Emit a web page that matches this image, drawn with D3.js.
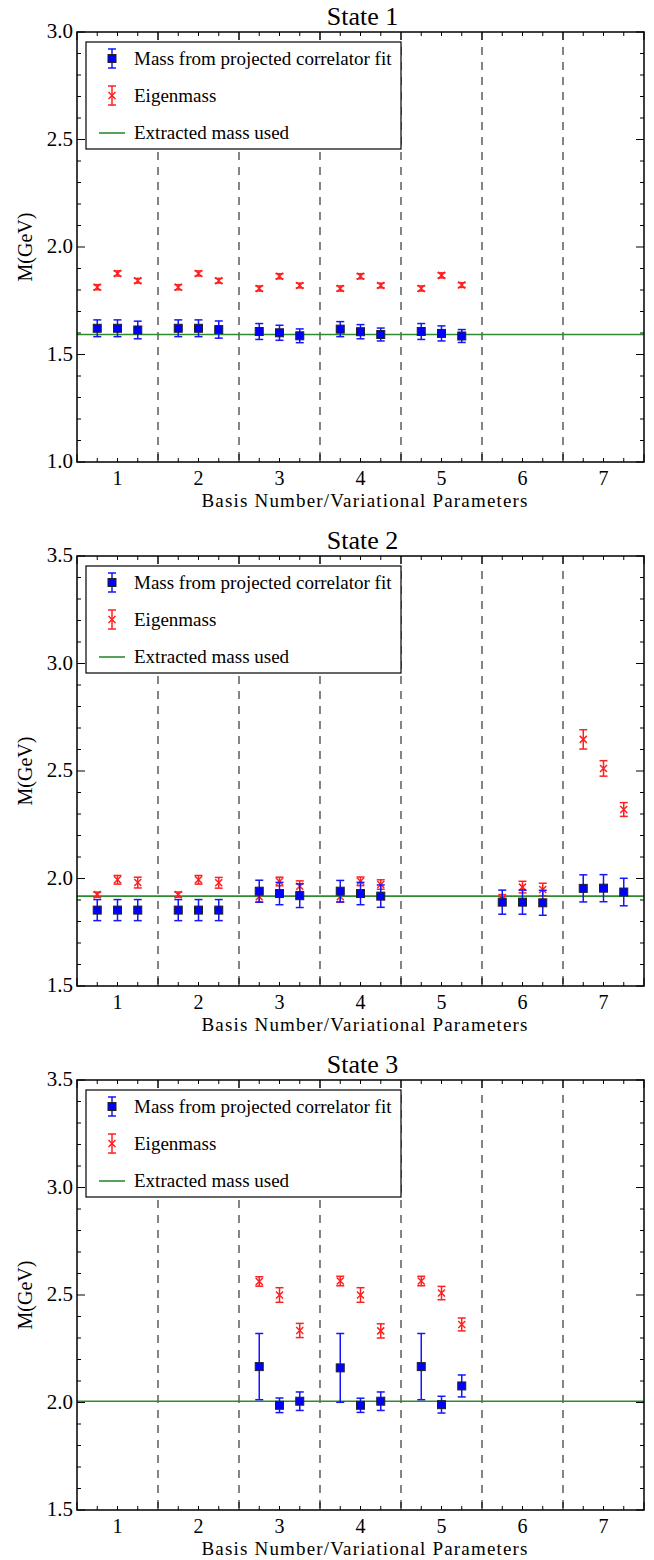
<!DOCTYPE html>
<html>
<head>
<meta charset="utf-8">
<script src="https://cdn.jsdelivr.net/npm/d3@7"></script>
<style>
  body { margin: 0; background: #fff; }
</style>
</head>
<body>
<div id="vis"></div>
<script>
'use strict'

// x positions of the three variational parameter sets inside each basis number
const xs_state1 = [0.75,1,1.25, 1.75,2,2.25, 2.75,3,3.25, 3.75,4,4.25, 4.75,5,5.25]
const blue_state1 = [1.622,1.622,1.614, 1.622,1.622,1.616, 1.607,1.601,1.587, 1.618,1.606,1.593, 1.607,1.598,1.586]
const blue_err_state1 = [0.039,0.039,0.041, 0.039,0.039,0.040, 0.037,0.035,0.032, 0.035,0.033,0.030, 0.037,0.035,0.030]
const red_state1 = [1.813,1.877,1.843, 1.813,1.877,1.843, 1.807,1.864,1.821, 1.807,1.864,1.821, 1.807,1.868,1.823]
const red_err_state1 = [0.012,0.012,0.011, 0.012,0.012,0.011, 0.012,0.012,0.011, 0.012,0.012,0.011, 0.012,0.012,0.011]
const green_state1 = 1.593

const xs_state2 = [0.75,1,1.25, 1.75,2,2.25, 2.75,3,3.25, 3.75,4,4.25, 5.75,6,6.25, 6.75,7,7.25]
const blue_state2 = [1.853,1.853,1.853, 1.853,1.853,1.853, 1.941,1.930,1.920, 1.941,1.930,1.918, 1.890,1.890,1.887, 1.954,1.955,1.937]
const blue_err_state2 = [0.049,0.049,0.049, 0.049,0.049,0.049, 0.051,0.052,0.055, 0.050,0.052,0.052, 0.056,0.056,0.058, 0.063,0.063,0.064]
const red_state2 = [1.925,1.994,1.981, 1.925,1.994,1.980, 1.915,1.986,1.964, 1.915,1.987,1.972, 1.905,1.960,1.949, 2.647,2.512,2.321]
const red_err_state2 = [0.012,0.020,0.025, 0.012,0.020,0.025, 0.025,0.020,0.025, 0.025,0.020,0.022, 0.020,0.027,0.029, 0.045,0.036,0.032]
const green_state2 = 1.918

const xs_state3 = [2.75,3,3.25, 3.75,4,4.25, 4.75,5,5.25]
const blue_state3 = [2.167,1.987,2.006, 2.161,1.987,2.006, 2.167,1.990,2.077]
const blue_err_state3 = [0.154,0.034,0.043, 0.160,0.033,0.043, 0.154,0.039,0.051]
const red_state3 = [2.563,2.500,2.335, 2.565,2.500,2.333, 2.565,2.509,2.363]
const red_err_state3 = [0.022,0.034,0.033, 0.022,0.034,0.033, 0.022,0.031,0.030]
const green_state3 = 2.006

const titles = ["State 1", "State 2", "State 3"]
const y_domains = [[1.0, 3.0], [1.5, 3.5], [1.5, 3.5]]
const x_tick_labels = [1, 2, 3, 4, 5, 6, 7]
const separators = [1.5, 2.5, 3.5, 4.5, 5.5, 6.5]
const legend_labels = ["Mass from projected correlator fit", "Eigenmass", "Extracted mass used"]

const panels = [
  {xs: xs_state1, blue: blue_state1, blue_err: blue_err_state1, red: red_state1, red_err: red_err_state1, green: green_state1},
  {xs: xs_state2, blue: blue_state2, blue_err: blue_err_state2, red: red_state2, red_err: red_err_state2, green: green_state2},
  {xs: xs_state3, blue: blue_state3, blue_err: blue_err_state3, red: red_state3, red_err: red_err_state3, green: green_state3}
]

const width = 654, height = 1560
const left = 77, right = 644
const panel_tops = [32, 556, 1080]
const panel_h = 430
const serif = "'Liberation Serif', 'Times New Roman', 'DejaVu Serif', serif"

const svg = d3.select("#vis").append("svg")
  .attr("width", width).attr("height", height)
  .attr("font-family", serif)
  .style("font-family", serif)

const x = d3.scaleLinear().domain([0.5, 7.5]).range([left, right])

panels.forEach(function(p, i){
  let top = panel_tops[i]
  let bottom = top + panel_h
  let y = d3.scaleLinear().domain(y_domains[i]).range([bottom, top])
  let g = svg.append("g")

  // dashed separators
  g.selectAll(".sep").data(separators).join("line")
    .attr("x1", d => x(d)).attr("x2", d => x(d))
    .attr("y1", top).attr("y2", bottom)
    .attr("stroke", "#444").attr("stroke-width", 1.3)
    .attr("stroke-dasharray", "8,7")

  // ticks (inward, all four sides)
  let xminor = d3.range(0.5, 7.51, 0.25)
  xminor.forEach(function(t){
    let major = Math.abs((t * 2) % 2 - 1) < 1e-6
    let len = major ? 8 : 4
    g.append("line").attr("x1", x(t)).attr("x2", x(t)).attr("y1", bottom).attr("y2", bottom - len)
      .attr("stroke", "#000").attr("stroke-width", 1)
    g.append("line").attr("x1", x(t)).attr("x2", x(t)).attr("y1", top).attr("y2", top + len)
      .attr("stroke", "#000").attr("stroke-width", 1)
  })
  let [y0, y1] = y_domains[i]
  d3.range(Math.round(y0 * 10), Math.round(y1 * 10) + 1).forEach(function(k){
    let t = k / 10
    let major = k % 5 == 0
    let len = major ? 8 : 4
    g.append("line").attr("x1", left).attr("x2", left + len).attr("y1", y(t)).attr("y2", y(t))
      .attr("stroke", "#000").attr("stroke-width", 1)
    g.append("line").attr("x1", right).attr("x2", right - len).attr("y1", y(t)).attr("y2", y(t))
      .attr("stroke", "#000").attr("stroke-width", 1)
    if(major){
      g.append("text").attr("x", left - 4).attr("y", y(t) + 6)
        .attr("text-anchor", "end").attr("font-size", 21)
        .text(t.toFixed(1))
    }
  })

  g.selectAll(".xl").data(x_tick_labels).join("text")
    .attr("x", d => x(d)).attr("y", bottom + 23)
    .attr("text-anchor", "middle").attr("font-size", 20)
    .text(d => d)

  g.append("text").attr("x", (left + right) / 2 + 4).attr("y", bottom + 45)
    .attr("text-anchor", "middle").attr("font-size", 19)
    .attr("textLength", 326).attr("lengthAdjust", "spacing")
    .text("Basis Number/Variational Parameters")

  g.append("text")
    .attr("transform", "translate(" + 32 + "," + (top + panel_h / 2) + ") rotate(-90)")
    .attr("text-anchor", "middle").attr("font-size", 20)
    .text("M(GeV)")

  g.append("text").attr("x", (left + right) / 2 + 2).attr("y", top - 7)
    .attr("text-anchor", "middle").attr("font-size", 26)
    .text(titles[i])

  // extracted mass line
  g.append("line").attr("x1", left).attr("x2", right)
    .attr("y1", y(p.green)).attr("y2", y(p.green))
    .attr("stroke", "#2e8b2e").attr("stroke-width", 1.6)

  let idx = d3.range(p.xs.length)

  // eigenmass (red x with error bars)
  let red_g = g.selectAll(".red").data(idx).join("g")
  red_g.append("line")
    .attr("x1", d => x(p.xs[d])).attr("x2", d => x(p.xs[d]))
    .attr("y1", d => y(p.red[d] - p.red_err[d])).attr("y2", d => y(p.red[d] + p.red_err[d]))
    .attr("stroke", "#ff2020").attr("stroke-width", 1.5)
  ;[-1, 1].forEach(function(s){
    red_g.append("line")
      .attr("x1", d => x(p.xs[d]) - 4).attr("x2", d => x(p.xs[d]) + 4)
      .attr("y1", d => y(p.red[d] + s * p.red_err[d])).attr("y2", d => y(p.red[d] + s * p.red_err[d]))
      .attr("stroke", "#ff2020").attr("stroke-width", 1.5)
  })
  red_g.append("path")
    .attr("d", function(d){
      let cx = x(p.xs[d]), cy = y(p.red[d]), r = 3.5
      return "M" + (cx - r) + "," + (cy - r) + "L" + (cx + r) + "," + (cy + r) +
        "M" + (cx - r) + "," + (cy + r) + "L" + (cx + r) + "," + (cy - r)
    })
    .attr("stroke", "#ff2020").attr("stroke-width", 1.5).attr("fill", "none")

  // projected correlator fit (blue squares with error bars)
  let blue_g = g.selectAll(".blue").data(idx).join("g")
  blue_g.append("line")
    .attr("x1", d => x(p.xs[d])).attr("x2", d => x(p.xs[d]))
    .attr("y1", d => y(p.blue[d] - p.blue_err[d])).attr("y2", d => y(p.blue[d] + p.blue_err[d]))
    .attr("stroke", "#1515ff").attr("stroke-width", 1.5)
  ;[-1, 1].forEach(function(s){
    blue_g.append("line")
      .attr("x1", d => x(p.xs[d]) - 4).attr("x2", d => x(p.xs[d]) + 4)
      .attr("y1", d => y(p.blue[d] + s * p.blue_err[d])).attr("y2", d => y(p.blue[d] + s * p.blue_err[d]))
      .attr("stroke", "#1515ff").attr("stroke-width", 1.5)
  })
  blue_g.append("rect")
    .attr("x", d => x(p.xs[d]) - 4).attr("y", d => y(p.blue[d]) - 4)
    .attr("width", 8).attr("height", 8)
    .attr("fill", "#0000ff").attr("stroke", "#222").attr("stroke-width", 1)

  // legend
  let lg = g.append("g").attr("transform", "translate(86," + (top + 10) + ")")
  lg.append("rect").attr("x", 0).attr("y", 0).attr("width", 315).attr("height", 107)
    .attr("fill", "#fff").attr("stroke", "#000").attr("stroke-width", 1.2)
  let mx = 26
  // blue entry
  lg.append("line").attr("x1", mx).attr("x2", mx).attr("y1", 7).attr("y2", 26).attr("stroke", "#1515ff").attr("stroke-width", 1.5)
  lg.append("line").attr("x1", mx - 4).attr("x2", mx + 4).attr("y1", 7).attr("y2", 7).attr("stroke", "#1515ff").attr("stroke-width", 1.5)
  lg.append("line").attr("x1", mx - 4).attr("x2", mx + 4).attr("y1", 26).attr("y2", 26).attr("stroke", "#1515ff").attr("stroke-width", 1.5)
  lg.append("rect").attr("x", mx - 4).attr("y", 12.5).attr("width", 8).attr("height", 8)
    .attr("fill", "#0000ff").attr("stroke", "#222").attr("stroke-width", 1)
  // red entry
  lg.append("line").attr("x1", mx).attr("x2", mx).attr("y1", 44).attr("y2", 63).attr("stroke", "#ff2020").attr("stroke-width", 1.5)
  lg.append("line").attr("x1", mx - 4).attr("x2", mx + 4).attr("y1", 44).attr("y2", 44).attr("stroke", "#ff2020").attr("stroke-width", 1.5)
  lg.append("line").attr("x1", mx - 4).attr("x2", mx + 4).attr("y1", 63).attr("y2", 63).attr("stroke", "#ff2020").attr("stroke-width", 1.5)
  lg.append("path").attr("d", "M" + (mx - 3.5) + ",50L" + (mx + 3.5) + ",57M" + (mx - 3.5) + ",57L" + (mx + 3.5) + ",50")
    .attr("stroke", "#ff2020").attr("stroke-width", 1.5).attr("fill", "none")
  // green entry
  lg.append("line").attr("x1", 13).attr("x2", 39).attr("y1", 91).attr("y2", 91)
    .attr("stroke", "#2e8b2e").attr("stroke-width", 1.6)
  lg.selectAll(".lt").data(legend_labels).join("text")
    .attr("x", 48).attr("y", (d, k) => 23 + k * 37)
    .attr("font-size", 19)
    .text(d => d)

  // frame
  g.append("rect").attr("x", left).attr("y", top).attr("width", right - left).attr("height", panel_h)
    .attr("fill", "none").attr("stroke", "#000").attr("stroke-width", 1.5)
})
</script>
</body>
</html>
